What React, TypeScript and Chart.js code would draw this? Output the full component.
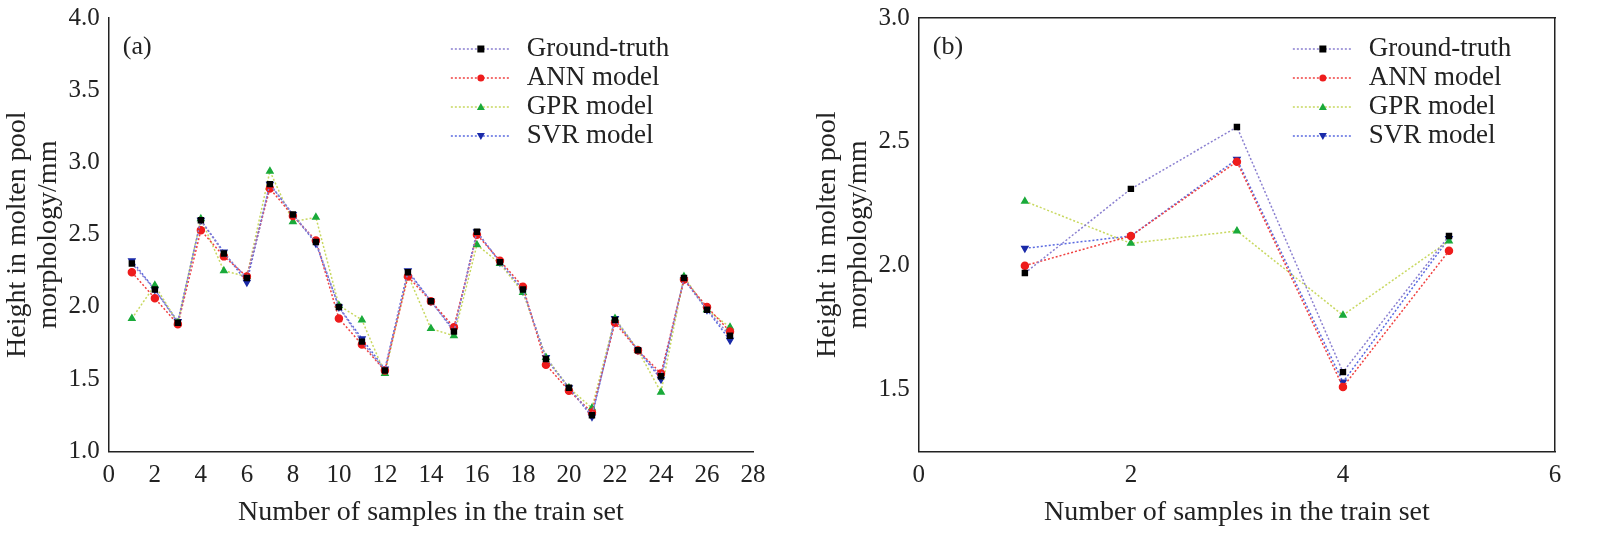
import React, { useEffect, useRef } from "react";
import { Chart, registerables } from "chart.js";
Chart.register(...registerables);

const xA = Array.from({ length: 27 }, (_, i) => i + 1);
const gtA = [2.3, 2.12, 1.89, 2.6, 2.37, 2.2, 2.85, 2.64, 2.45, 2.0, 1.76, 1.56, 2.24, 2.04, 1.83, 2.52, 2.31, 2.12, 1.64, 1.44, 1.25, 1.91, 1.7, 1.52, 2.2, 1.98, 1.8];
const annA = [2.24, 2.06, 1.88, 2.53, 2.35, 2.21, 2.82, 2.63, 2.46, 1.92, 1.74, 1.56, 2.21, 2.04, 1.86, 2.5, 2.32, 2.14, 1.6, 1.42, 1.27, 1.89, 1.7, 1.54, 2.19, 2.0, 1.83];
const gprA = [1.92, 2.15, 1.89, 2.61, 2.25, 2.21, 2.94, 2.59, 2.62, 2.01, 1.91, 1.54, 2.22, 1.85, 1.8, 2.43, 2.3, 2.1, 1.65, 1.44, 1.3, 1.92, 1.7, 1.41, 2.21, 1.98, 1.86];
const svrA = [2.32, 2.12, 1.9, 2.6, 2.38, 2.17, 2.85, 2.64, 2.44, 2.0, 1.78, 1.57, 2.25, 2.04, 1.84, 2.52, 2.31, 2.11, 1.65, 1.44, 1.24, 1.92, 1.7, 1.5, 2.19, 1.98, 1.77];
const xB = [1, 2, 3, 4, 5];
const gtB = [1.97, 2.31, 2.56, 1.57, 2.12];
const annB = [2.0, 2.12, 2.42, 1.51, 2.06];
const gprB = [2.26, 2.09, 2.14, 1.8, 2.1];
const svrB = [2.07, 2.12, 2.43, 1.53, 2.11];
const names = ["Ground-truth", "ANN model", "GPR model", "SVR model"];

const FONT = "'Liberation Serif', 'DejaVu Serif', serif";
const styles = [
  { line: "#8a7fd0", pt: "#000000", shape: "rect", rot: 0 },
  { line: "#f04040", pt: "#ee1c1c", shape: "circle", rot: 0 },
  { line: "#c8d860", pt: "#1aaa3a", shape: "triangle", rot: 0 },
  { line: "#5a6ae0", pt: "#1a2aa8", shape: "triangle", rot: 180 },
];

function mk(xs: number[], series: number[][]) {
  return series.map((s, k) => ({
    label: names[k],
    data: xs.map((x, i) => ({ x, y: s[i] })),
    borderColor: styles[k].line,
    borderWidth: 1.5,
    borderDash: [2, 2],
    pointBackgroundColor: styles[k].pt,
    pointBorderColor: styles[k].pt,
    pointStyle: styles[k].shape,
    pointRotation: styles[k].rot,
    pointRadius: 3.5,
    showLine: true,
  }));
}

const legendPlugin = (lx: number, ly: number, label: string) => ({
  id: "inlegend",
  afterDraw(chart: any) {
    const c = chart.ctx;
    const a = chart.chartArea;
    c.save();
    c.font = `26px ${FONT}`;
    c.fillStyle = "#222";
    c.textBaseline = "middle";
    c.fillText(label, a.left + 14, a.top + 29);
    names.forEach((n, k) => {
      const y = a.top + ly + k * 29;
      const x0 = a.left + lx;
      c.strokeStyle = styles[k].line;
      c.lineWidth = 1.5;
      c.setLineDash([2, 2]);
      c.beginPath();
      c.moveTo(x0, y);
      c.lineTo(x0 + 60, y);
      c.stroke();
      c.setLineDash([]);
      c.fillStyle = styles[k].pt;
      const px = x0 + 30;
      if (k === 0) c.fillRect(px - 3.5, y - 3.5, 7, 7);
      else if (k === 1) { c.beginPath(); c.arc(px, y, 3.5, 0, Math.PI * 2); c.fill(); }
      else {
        const d = k === 2 ? -1 : 1;
        c.beginPath();
        c.moveTo(px, y + 4 * d);
        c.lineTo(px - 4, y - 3 * d);
        c.lineTo(px + 4, y - 3 * d);
        c.closePath();
        c.fill();
      }
      c.fillStyle = "#222";
      c.font = `27px ${FONT}`;
      c.fillText(n, x0 + 76, y);
    });
    c.restore();
  },
});

function opts(xmax: number, ymin: number, ymax: number, xstep: number, pad: any, box: boolean) {
  const tickFont = { family: FONT, size: 25 };
  const sc: any = {
    x: {
      type: "linear",
      min: 0,
      max: xmax,
      ticks: { stepSize: xstep, font: tickFont, color: "#222" },
      grid: { display: false, drawTicks: true, tickLength: 6 },
      border: { color: "#222", width: 1.5 },
      title: { display: true, text: "Number of samples in the train set", font: { family: FONT, size: 28 }, color: "#222", padding: 2 },
    },
    y: {
      min: ymin,
      max: ymax,
      afterBuildTicks: (s: any) => { s.ticks = s.ticks.filter((t: any) => Math.abs(t.value * 2 - Math.round(t.value * 2)) < 1e-6); },
      ticks: { stepSize: 0.5, font: tickFont, color: "#222", callback: (v: number) => v.toFixed(1) },
      grid: { display: false, tickLength: 6 },
      border: { color: "#222", width: 1.5 },
      title: { display: true, text: ["Height in molten pool", "morphology/mm"], font: { family: FONT, size: 28, lineHeight: 1.1 }, color: "#222", padding: 2 },
    },
  };
  if (box) {
    sc.x2 = { position: "top", display: true, ticks: { display: false }, grid: { display: false, drawTicks: false }, border: { color: "#222", width: 1.5 } };
    sc.y2 = { position: "right", display: true, ticks: { display: false }, grid: { display: false, drawTicks: false }, border: { color: "#222", width: 1.5 } };
  }
  return {
    animation: false,
    responsive: false,
    layout: { padding: pad },
    plugins: { legend: { display: false }, tooltip: { enabled: false } },
    scales: sc,
  };
}

function Panel({ xs, series, xmax, ymin, ymax, xstep, label, pad, lx, box }: any) {
  const ref = useRef<HTMLCanvasElement>(null);
  useEffect(() => {
    const ch = new Chart(ref.current!, {
      type: "scatter",
      data: { datasets: mk(xs, series) as any },
      options: opts(xmax, ymin, ymax, xstep, pad, box) as any,
      plugins: [legendPlugin(lx, 31, label)],
    });
    return () => ch.destroy();
  }, []);
  return <canvas ref={ref} width={810} height={535} style={{ display: "block" }} />;
}

export default function App() {
  return (
    <div style={{ position: "fixed", left: 0, top: 0, display: "flex", background: "#fff" }}>
      <Panel xs={xA} series={[gtA, annA, gprA, svrA]} xmax={28} ymin={1} ymax={4} xstep={2} label="(a)" pad={{ top: 14, right: 57, bottom: 4, left: 0 }} lx={342} box={false} />
      <Panel xs={xB} series={[gtB, annB, gprB, svrB]} xmax={6} ymin={1.25} ymax={3} xstep={2} label="(b)" pad={{ top: 14, right: 65, bottom: 4, left: 0 }} lx={374} box={true} />
    </div>
  );
}
